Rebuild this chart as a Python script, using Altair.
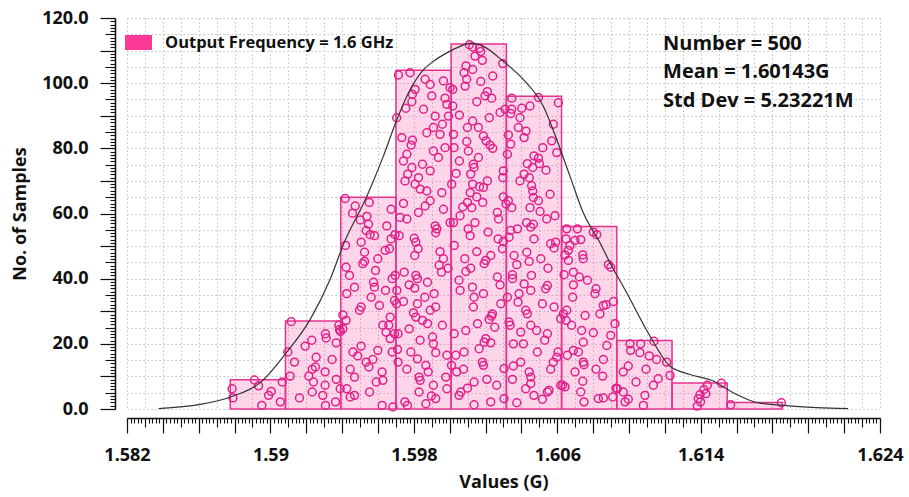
import altair as alt
import pandas as pd

# ---------------- data ----------------
bin_edges = [1.58776, 1.59084, 1.59392, 1.59700, 1.60008, 1.60316,
             1.60624, 1.60932, 1.61240, 1.61548, 1.61856]
bin_counts = [9, 27, 65, 104, 112, 96, 56, 21, 8, 2]
series_name = "Output Frequency = 1.6 GHz"

curve_x = [1.58376, 1.58609, 1.58794, 1.58943, 1.59082, 1.59222, 1.59333, 1.59407,
           1.59538, 1.59630, 1.59705, 1.59779, 1.59853, 1.59909, 1.59984, 1.60058,
           1.60114, 1.60188, 1.60299, 1.60411, 1.60522, 1.60597, 1.60671, 1.60745,
           1.60838, 1.60894, 1.60987, 1.61117, 1.61228, 1.61340, 1.61470, 1.61581,
           1.61712, 1.61860, 1.62046, 1.62222]
curve_y = [0.1, 1.4, 4.0, 8.1, 16.8, 27.5, 39.8, 50.5,
           65.3, 77.6, 88.8, 98.0, 104.1, 106.7, 109.3, 111.3,
           112.3, 111.3, 106.7, 101.1, 92.9, 82.7, 71.4, 60.2,
           51.0, 44.9, 35.7, 22.4, 13.2, 10.6, 8.6, 5.0,
           2.0, 1.1, 0.4, 0.1]

# individual samples (value in G, vertical jitter position in the bar)
sample_values = [
    # bin 1
    1.58786, 1.58791, 1.58911, 1.58934, 1.58952, 1.58990, 1.59004, 1.59055, 1.59066,
    # bin 2
    1.59116, 1.59097, 1.59134, 1.59194, 1.59231, 1.59307, 1.59311, 1.59367, 1.59344,
    1.59233, 1.59251, 1.59305, 1.59110, 1.59367, 1.59240, 1.59305, 1.59389, 1.59233,
    1.59292, 1.59162, 1.59307, 1.59363, 1.59382, 1.59390, 1.59214, 1.59385, 1.59255,
    # bin 3
    1.59404, 1.59419, 1.59422, 1.59426, 1.59469, 1.59506, 1.59534, 1.59556, 1.59580,
    1.59599, 1.59586, 1.59575, 1.59580, 1.59640, 1.59664, 1.59673, 1.59695, 1.59515,
    1.59525, 1.59562, 1.59642, 1.59692, 1.59679, 1.59696, 1.59497, 1.59506, 1.59422,
    1.59404, 1.59627, 1.59660, 1.59668, 1.59645, 1.59668, 1.59692, 1.59460, 1.59487,
    1.59506, 1.59534, 1.59549, 1.59571, 1.59599, 1.59623, 1.59627, 1.59679, 1.59445,
    1.59426, 1.59445, 1.59469, 1.59553, 1.59623, 1.59683, 1.59590, 1.59469, 1.59525,
    1.59441, 1.59608, 1.59417, 1.59473, 1.59551, 1.59458, 1.59538, 1.59501, 1.59673,
    1.59649, 1.59547,
    # bin 4
    1.59714, 1.59779, 1.59807, 1.59792, 1.59789, 1.59755, 1.59704, 1.59863, 1.59891,
    1.59900, 1.59854, 1.59919, 1.59965, 1.59974, 1.59984, 1.60002, 1.59959, 1.59946,
    1.59909, 1.59872, 1.59733, 1.59792, 1.59785, 1.59761, 1.59742, 1.59848, 1.59789,
    1.59891, 1.59766, 1.59826, 1.59751, 1.59807, 1.59835, 1.59872, 1.59909, 1.59937,
    1.59956, 1.59891, 1.59863, 1.59826, 1.59742, 1.59723, 1.59761, 1.59965, 1.59919,
    1.60002, 1.59974, 1.59993,
    1.59718, 1.59802, 1.59811, 1.59824, 1.59805, 1.59928, 1.59922, 1.59946, 1.59965,
    1.59941, 1.59954, 1.59991, 1.59811, 1.59820, 1.59774, 1.59805, 1.59705, 1.59704,
    1.59742, 1.59861, 1.59913, 1.59820, 1.59798, 1.59811, 1.59891, 1.59922, 1.59848,
    1.59876, 1.59774, 1.59712, 1.59835, 1.59904, 1.59909, 1.59922, 1.59709, 1.59820,
    1.59712, 1.59761, 1.59867, 1.59829, 1.59835, 1.59880, 1.59909, 1.59922, 1.59829,
    1.59750, 1.59764, 1.59984, 1.59898, 1.59984, 1.59978, 1.59746, 1.59876, 1.59959,
    1.59783, 1.59867,
    # bin 5
    1.60110, 1.60128, 1.60166, 1.60173, 1.60141, 1.60182, 1.60091, 1.60080, 1.60128,
    1.60095, 1.60086, 1.60173, 1.60240, 1.60296, 1.60017, 1.60210, 1.60197, 1.60234,
    1.60151, 1.60017, 1.60054, 1.60128, 1.60099, 1.60221, 1.60281, 1.60309, 1.60160,
    1.60188, 1.60203, 1.60225, 1.60240, 1.60021, 1.60095, 1.60024, 1.60104, 1.60160,
    1.60054, 1.60132, 1.60136, 1.60036, 1.60117, 1.60210, 1.60299, 1.60296, 1.60128,
    1.60166, 1.60188, 1.60011, 1.60114, 1.60151, 1.60184, 1.60099, 1.60073, 1.60123,
    1.60266, 1.60299, 1.60272, 1.60058, 1.60141, 1.60021, 1.60314,
    1.60025, 1.60084, 1.60090, 1.60117, 1.60151, 1.60192, 1.60201, 1.60229, 1.60103,
    1.60114, 1.60214, 1.60270, 1.60294, 1.60299, 1.60052, 1.60127, 1.60058, 1.60136,
    1.60132, 1.60188, 1.60266, 1.60281, 1.60285, 1.60238, 1.60220, 1.60233, 1.60251,
    1.60155, 1.60025, 1.60090, 1.60201, 1.60229, 1.60192, 1.60034, 1.60080, 1.60164,
    1.60010, 1.60039, 1.60077, 1.60182, 1.60188, 1.60207, 1.60136, 1.60099, 1.60062,
    1.60052, 1.60136, 1.60229, 1.60262, 1.60303, 1.60303,
    # bin 6
    1.60346, 1.60346, 1.60340, 1.60402, 1.60448, 1.60495, 1.60392, 1.60606, 1.60578,
    1.60426, 1.60383, 1.60415, 1.60327, 1.60340, 1.60519, 1.60569, 1.60470, 1.60495,
    1.60433, 1.60463, 1.60500, 1.60537, 1.60597, 1.60415, 1.60444, 1.60457, 1.60463,
    1.60467, 1.60495, 1.60504, 1.60448, 1.60327, 1.60346, 1.60429, 1.60467, 1.60541,
    1.60587, 1.60322, 1.60392, 1.60560,
    1.60340, 1.60378, 1.60452, 1.60470, 1.60430, 1.60443, 1.60374, 1.60350, 1.60350,
    1.60456, 1.60508, 1.60548, 1.60563, 1.60591, 1.60582, 1.60452, 1.60387, 1.60381,
    1.60322, 1.60545, 1.60535, 1.60517, 1.60582, 1.60424, 1.60433, 1.60331, 1.60337,
    1.60452, 1.60485, 1.60545, 1.60530, 1.60396, 1.60355, 1.60411, 1.60396, 1.60355,
    1.60443, 1.60452, 1.60452, 1.60563, 1.60578, 1.60604, 1.60597, 1.60350, 1.60374,
    1.60470, 1.60517, 1.60545, 1.60554, 1.60331, 1.60619, 1.60415, 1.60489, 1.60424,
    1.60619, 1.60359,
    # bin 7
    1.60653, 1.60712, 1.60649, 1.60662, 1.60643, 1.60699, 1.60731, 1.60742, 1.60745,
    1.60801, 1.60820, 1.60662, 1.60690, 1.60638, 1.60723, 1.60768, 1.60690, 1.60816,
    1.60810, 1.60885, 1.60898, 1.60686, 1.60653, 1.60649, 1.60755, 1.60838, 1.60857,
    1.60872, 1.60913, 1.60680, 1.60736, 1.60801, 1.60922, 1.60898, 1.60876, 1.60745,
    1.60656, 1.60718, 1.60690, 1.60745, 1.60749, 1.60816, 1.60853, 1.60857, 1.60630,
    1.60643, 1.60742, 1.60699, 1.60731, 1.60829, 1.60857, 1.60909, 1.60928, 1.60671,
    1.60634, 1.60749,
    # bin 8
    1.61006, 1.61009, 1.61065, 1.61061, 1.60968, 1.60996, 1.61113, 1.61139, 1.61154,
    1.61095, 1.61210, 1.61229, 1.61163, 1.61039, 1.61136, 1.60968, 1.60996, 1.60978,
    1.61089, 1.61080, 1.60935,
    # bin 9
    1.61516, 1.61437, 1.61418, 1.61429, 1.61396, 1.61386, 1.61399, 1.61381,
    # bin 10
    1.61567, 1.61850,
]
sample_heights = [
    # bin 1
    6.2, 3.4, 8.9, 7.1, 1.1, 4.2, 5.4, 2.2, 8.3,
    # bin 2
    26.8, 17.5, 14.4, 19.3, 21.1, 23.1, 21.8, 20.3, 15.2,
    12.2, 12.9, 11.4, 10.1, 9.1, 8.3, 7.3, 6.2, 5.2,
    4.2, 3.4, 1.1, 2.2, 25.7, 23.8, 10.1, 24.4, 15.9,
    # bin 3
    28.9, 50.2, 43.5, 35.4, 37.4, 51.2, 54.8, 53.5, 53.2,
    46.1, 42.5, 38.9, 37.4, 48.7, 49.2, 52.2, 53.5, 44.6,
    45.3, 34.3, 36.4, 33.3, 40.0, 41.0, 30.3, 31.3, 27.2,
    24.6, 25.7, 25.7, 28.2, 23.6, 21.6, 23.1, 17.5, 16.3,
    19.3, 14.4, 12.9, 15.2, 18.0, 11.4, 8.8, 17.5, 12.2,
    6.2, 3.7, 4.2, 5.2, 1.1, 0.6, 8.3, 9.8, 48.1,
    41.0, 31.8, 64.6, 62.3, 63.4, 60.1, 59.1, 58.0, 61.3,
    56.2, 56.7,
    # bin 4
    102.5, 103.2, 98.1, 96.6, 94.3, 92.3, 89.4, 101.2, 99.6,
    96.1, 92.0, 89.9, 100.7, 95.4, 93.5, 98.6, 87.4, 84.3,
    86.4, 84.8, 83.3, 82.5, 81.0, 78.2, 76.1, 75.1, 74.1,
    73.1, 72.1, 71.0, 70.0, 69.0, 67.5, 66.9, 79.2, 77.2,
    66.4, 63.9, 62.3, 60.3, 63.1, 58.8, 58.3, 61.3, 56.2,
    57.2, 80.2, 89.9,
    53.2, 52.4, 51.2, 49.2, 47.1, 55.3, 54.1, 48.3, 46.1,
    44.1, 42.0, 43.2, 41.0, 40.0, 38.1, 37.1, 36.4, 32.3,
    33.0, 34.3, 35.4, 32.3, 29.5, 28.2, 30.3, 31.3, 27.2,
    26.2, 24.6, 23.1, 21.1, 22.1, 20.0, 17.3, 18.3, 15.4,
    14.4, 12.2, 13.4, 9.8, 8.8, 11.4, 7.3, 3.2, 5.2,
    2.2, 1.1, 6.2, 4.0, 16.5, 9.8, 42.0, 38.9, 25.7,
    17.5, 1.6,
    # bin 5
    111.8, 111.1, 110.7, 109.7, 108.3, 107.0, 105.3, 103.2, 104.2,
    101.2, 99.1, 100.5, 102.2, 106.0, 98.1, 97.4, 96.1, 95.4,
    94.3, 93.0, 90.2, 88.4, 86.4, 89.4, 91.0, 92.0, 86.4,
    83.8, 82.3, 81.0, 80.0, 84.3, 82.1, 80.2, 79.2, 77.2,
    76.1, 75.1, 74.1, 72.3, 72.1, 70.0, 73.1, 71.0, 69.0,
    68.2, 68.0, 69.0, 66.4, 65.1, 63.4, 63.4, 62.0, 61.8,
    60.3, 65.1, 58.3, 59.3, 57.2, 57.2, 62.9,
    50.2, 46.1, 42.2, 43.2, 48.3, 44.6, 45.6, 47.1, 55.3,
    53.2, 54.3, 52.2, 49.2, 51.4, 39.5, 37.4, 36.4, 34.3,
    31.3, 35.4, 40.5, 38.1, 32.3, 29.2, 27.5, 28.5, 25.1,
    26.2, 23.1, 24.1, 21.6, 20.3, 20.5, 16.5, 17.5, 18.5,
    13.4, 11.4, 12.2, 14.4, 13.4, 9.1, 8.3, 6.4, 5.2,
    4.2, 1.3, 2.2, 7.3, 3.2, 12.4,
    # bin 6
    95.4, 92.0, 90.7, 92.3, 93.0, 95.6, 89.4, 94.0, 87.4,
    85.3, 86.4, 83.3, 84.1, 81.3, 80.2, 82.3, 77.7, 77.0,
    75.3, 74.1, 75.3, 73.3, 78.7, 72.1, 71.0, 68.5, 66.9,
    64.9, 63.9, 60.6, 61.8, 63.9, 61.8, 57.2, 56.7, 58.3,
    59.3, 78.2, 70.0, 65.9,
    54.8, 55.3, 55.8, 52.2, 48.1, 45.3, 44.3, 41.2, 40.0,
    41.0, 46.1, 43.2, 50.7, 51.2, 49.4, 36.4, 35.4, 32.8,
    34.3, 37.9, 36.9, 32.3, 31.3, 30.3, 29.2, 26.7, 25.7,
    25.7, 24.1, 23.1, 21.1, 23.6, 20.0, 20.0, 14.4, 13.2,
    11.4, 9.8, 7.8, 12.2, 14.4, 17.5, 15.9, 9.1, 1.9,
    4.2, 3.0, 5.2, 5.7, 52.7, 27.7, 38.4, 17.5, 6.2,
    7.3, 47.1,
    # bin 7
    55.3, 55.3, 52.2, 48.7, 47.3, 51.7, 52.0, 47.3, 46.1,
    54.3, 53.5, 45.6, 42.0, 41.2, 40.5, 39.5, 38.1, 36.9,
    35.4, 44.3, 43.5, 34.3, 30.3, 27.2, 28.7, 29.2, 31.8,
    32.0, 33.0, 25.7, 24.1, 23.4, 26.2, 22.6, 19.5, 20.5,
    16.5, 17.5, 18.0, 14.4, 13.6, 12.2, 10.1, 15.2, 7.3,
    6.8, 8.5, 11.4, 5.2, 3.2, 3.4, 3.7, 6.4, 50.2,
    29.2, 2.2,
    # bin 8
    20.0, 18.0, 20.0, 17.3, 11.4, 13.2, 16.3, 20.8, 15.2,
    12.2, 14.4, 10.3, 9.3, 8.3, 7.3, 5.2, 3.0, 2.2,
    4.2, 1.1, 6.2,
    # bin 9
    7.9, 7.3, 6.0, 4.7, 4.4, 3.2, 2.2, 0.9,
    # bin 10
    1.3, 1.9,
]

stats_lines = ["Number = 500", "Mean = 1.60143G", "Std Dev = 5.23221M"]
x_label_values = ["1.582", "1.59", "1.598", "1.606", "1.614", "1.624"]

# ---------------- tables ----------------
bars_df = pd.DataFrame({
    "start": bin_edges[:-1],
    "end": bin_edges[1:],
    "count": bin_counts,
    "series": [series_name] * len(bin_counts),
})
n = min(len(sample_values), len(sample_heights))
dots_df = pd.DataFrame({"value": sample_values[:n], "height": sample_heights[:n]})
curve_df = pd.DataFrame({"x": curve_x, "y": curve_y})

# ---------------- axes / scales ----------------
X0, X1 = 1.582, 1.624
xs = alt.Scale(domain=[X0, X1], nice=False, zero=False)
ys = alt.Scale(domain=[0, 120], nice=False, zero=True)

x_grid = [round(X0 + 0.001 * i, 3) for i in range(43)]
x_major = [round(X0 + 0.002 * i, 3) for i in range(22)]
x_medium = [round(X0 + 0.001 + 0.002 * i, 3) for i in range(21)]
x_minor = [round(X0 + 0.0002 * i, 4) for i in range(211)]
y_grid = list(range(0, 121, 5))
y_major = list(range(0, 121, 10))
y_medium = list(range(5, 120, 10))
y_minor = list(range(0, 121))

FONT = "Open Sans"
INK = "#111111"
GRID = "#c2c2c2"
X_OFF = 9
Y_OFF = 12

label_list = "[" + ",".join("'" + s + "'" for s in x_label_values) + "]"
x_label_expr = ("indexof(" + label_list + ", format(datum.value, '.3~f')) >= 0 ? "
                "format(datum.value, '.3~f') : ''")
y_label_expr = "datum.value % 20 == 0 ? format(datum.value, '.1f') : ''"

def tick_axis(values, size, orient, offset):
    return alt.Axis(values=values, tickSize=size, labels=False, domain=False,
                    grid=False, title=None, orient=orient, offset=offset,
                    tickColor=INK, tickWidth=1.1)

grid_layer = alt.Chart(bars_df).mark_bar(opacity=0).encode(
    x=alt.X("start:Q", scale=xs, axis=alt.Axis(
        values=x_grid, grid=True, gridDash=[1.5, 2.5], gridColor=GRID,
        gridWidth=1, domain=False, ticks=False, labels=False, title=None,
        orient="bottom", offset=0)),
    x2="end:Q",
    y=alt.Y("count:Q", scale=ys, axis=alt.Axis(
        values=y_grid, grid=True, gridDash=[1.5, 2.5], gridColor=GRID,
        gridWidth=1, domain=False, ticks=False, labels=False, title=None,
        orient="left", offset=0)),
    y2=alt.Y2Datum(0),
)

bars = alt.Chart(bars_df).mark_bar(
    fillOpacity=0.21, stroke="#e6338f", strokeWidth=1.5
).encode(
    x=alt.X("start:Q", scale=xs, axis=alt.Axis(
        values=x_major, tickSize=15, labelExpr=x_label_expr, labelFlush=False,
        labelOverlap=False, labelPadding=13, grid=False, domain=True,
        title="Values (G)", titlePadding=9, orient="bottom", offset=X_OFF,
        tickColor=INK, tickWidth=1.2, domainColor=INK, domainWidth=1.5)),
    x2="end:Q",
    y=alt.Y("count:Q", scale=ys, axis=alt.Axis(
        values=y_major, tickSize=15, labelExpr=y_label_expr, labelOverlap=False,
        labelPadding=12, grid=False, domain=True, title="No. of Samples",
        titlePadding=12, orient="left", offset=Y_OFF,
        tickColor=INK, tickWidth=1.2, domainColor=INK, domainWidth=1.5)),
    y2=alt.Y2Datum(0),
    fill=alt.Fill("series:N", scale=alt.Scale(range=["#fb3a98"]), legend=alt.Legend(
        title=None, orient="none", legendX=-2, legendY=11, padding=0,
        symbolType="M-1,-0.556L1,-0.556L1,0.556L-1,0.556Z", symbolSize=729,
        symbolOpacity=1, symbolStrokeWidth=0,
        labelFont=FONT, labelFontSize=16.5, labelFontWeight="bold",
        labelColor=INK, labelOffset=13, labelLimit=500)),
)

dots = alt.Chart(dots_df).mark_point(
    shape="circle", filled=False, size=62, color="#e0218a",
    strokeWidth=1.5, opacity=1
).encode(
    x=alt.X("value:Q", scale=xs, axis=tick_axis(x_medium, 9, "bottom", X_OFF)),
    y=alt.Y("height:Q", scale=ys, axis=tick_axis(y_medium, 10, "left", Y_OFF)),
)

curve = alt.Chart(curve_df).mark_line(
    color="#333333", strokeWidth=1.2, interpolate="monotone"
).encode(
    x=alt.X("x:Q", scale=xs, axis=tick_axis(x_minor, 5, "bottom", X_OFF)),
    y=alt.Y("y:Q", scale=ys, axis=tick_axis(y_minor, 5, "left", Y_OFF)),
)

stats = alt.Chart(pd.DataFrame({"k": [0]})).mark_text(
    text=stats_lines, align="left", baseline="top", font=FONT, fontSize=20,
    fontWeight="bold", lineHeight=28.5, color=INK
).encode(
    x=alt.XDatum(1.6119, type="quantitative", scale=xs, axis=None),
    y=alt.YDatum(115.2, type="quantitative", scale=ys, axis=None),
)

chart = alt.layer(grid_layer, bars, dots, curve, stats).resolve_axis(
    x="independent", y="independent"
).properties(
    width=753, height=391,
    padding={"left": 127, "top": 18, "right": 29, "bottom": 88},
    autosize=alt.AutoSizeParams(type="none"),
    background="white",
).configure_view(stroke=None).configure_axis(
    labelFont=FONT, labelFontSize=18, labelFontWeight="bold", labelColor=INK,
    titleFont=FONT, titleFontSize=18, titleFontWeight="bold", titleColor=INK,
)

chart.save("out.html", embed_options={"renderer": "svg", "actions": False})
